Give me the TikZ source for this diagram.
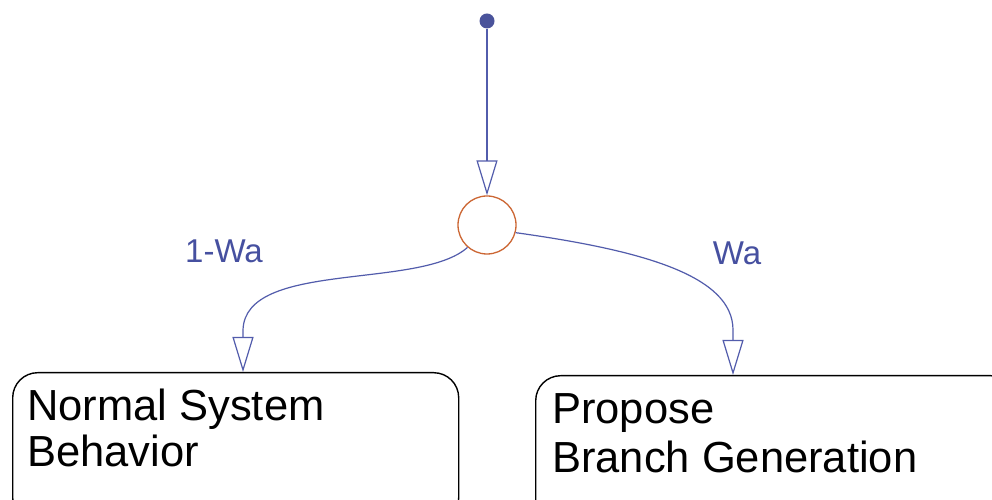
\documentclass[tikz,border=0pt]{standalone}
\usepackage{fontspec}
\setmainfont{Liberation Sans}
\usetikzlibrary{arrows.meta,calc}
\definecolor{flowblue}{RGB}{82,92,172}
\definecolor{labelblue}{RGB}{70,80,160}
\definecolor{junctionorange}{RGB}{204,102,51}
\begin{document}
\begin{tikzpicture}[x=1pt,y=1pt,
  flow/.style={draw=flowblue,line width=1.2pt,-{Triangle[open,length=35pt,width=21pt,line width=1.2pt]}},
  statebox/.style={draw=black,line width=1.4pt,rounded corners=25pt,minimum height=150pt,anchor=north west,inner sep=0pt},
  boxtext/.style={font=\fontsize{43.5}{47}\selectfont,anchor=base west,inner sep=0pt,text=black},
  guardlabel/.style={font=\fontsize{33}{36}\selectfont,text=labelblue,anchor=base,inner sep=0pt},
  junction/.style={circle,draw=junctionorange,line width=1.3pt,minimum size=58pt,inner sep=0pt},
  initdot/.style={circle,fill=flowblue!90!black,minimum size=15pt,inner sep=0pt}]
\clip (0,0) rectangle (992,500);
\fill[white] (0,0) rectangle (992,500);
\node[initdot] (init) at (487,479) {};
\node[junction] (c) at (487,275) {};
\node[statebox,minimum width=446pt] (lbox) at (12,128) {};
\node[statebox,minimum width=480pt] (rbox) at (535,125) {};
\node[boxtext] (l1) at (27,79) {Normal System};
\node[boxtext] (l2) at (27,33) {Behavior};
\node[boxtext] (r1) at (552,76) {Propose};
\node[boxtext] (r2) at (552,27) {Branch Generation};
\node[guardlabel] (g1) at (224,237) {1-Wa};
\node[guardlabel] (g2) at (737,235) {Wa};
\draw[flow] (init) -- (c);
\draw[flow] (c.-131) .. controls (420,210) and (245,240) .. (243,170) -- ($(lbox.north west)+(231,0)$);
\draw[flow] (c.-15) .. controls (640,250) and (733,225) .. (733,170) -- ($(rbox.north west)+(198,0)$);
\end{tikzpicture}
\end{document}
